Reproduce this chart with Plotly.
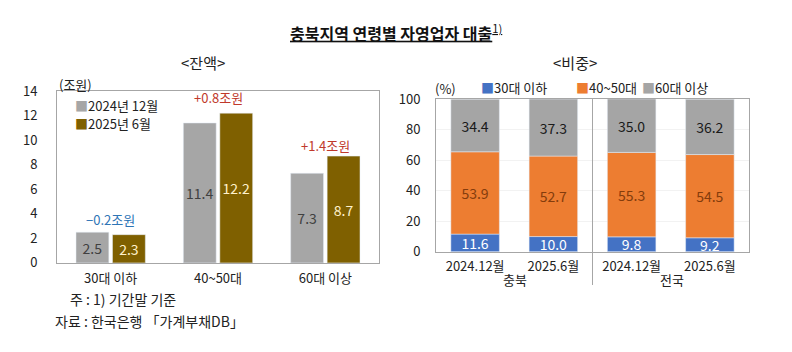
import plotly.graph_objects as go

FONT = "Noto Sans CJK KR"

# ---- Left chart data (잔액, 조원) ----
age_groups = ["30대 이하", "40~50대", "60대 이상"]
bal_2024_12 = [2.5, 11.4, 7.3]
bal_2025_6 = [2.3, 12.2, 8.7]
bal_change = ["−0.2조원", "+0.8조원", "+1.4조원"]
change_colors = ["#2E75B6", "#C0392B", "#C0392B"]
left_ticks = [0, 2, 4, 6, 8, 10, 12, 14]

# ---- Right chart data (비중, %) ----
regions = ["충북", "충북", "전국", "전국"]
periods = ["2024.12월", "2025.6월", "2024.12월", "2025.6월"]
share_30 = [11.6, 10.0, 9.8, 9.2]
share_4050 = [53.9, 52.7, 55.3, 54.5]
share_60 = [34.4, 37.3, 35.0, 36.2]
right_ticks = [0, 20, 40, 60, 80, 100]

W, H = 792, 352
def px(v): return v / W
# vertical calibration (observed render map)
def py(v): return 1 - ((v - 10.32) / 0.9415) / H

fig = go.Figure()

# Left bars
for vals, name, col, tcol in [
    (bal_2024_12, "2024년 12월", "#A6A6A6", "#404040"),
    (bal_2025_6, "2025년 6월", "#7F6000", "#FFF2CC"),
]:
    fig.add_trace(go.Bar(
        x=age_groups, y=vals, name=name, marker_color=col,
        text=[f"{v:.1f}" for v in vals], textangle=0, constraintext="none",
        textposition="inside", insidetextanchor="middle",
        textfont=dict(color=tcol, size=14, family=FONT),
        xaxis="x", yaxis="y", showlegend=False,
    ))

# Right stacked bars (stacked via base so left can stay grouped)
xkeys = [f"{r} {p}" for r, p in zip(regions, periods)]
base_4050 = share_30
base_60 = [a + b for a, b in zip(share_30, share_4050)]
for vals, base, name, col, tcol in [
    (share_30, None, "30대 이하", "#4472C4", "#FFFFFF"),
    (share_4050, base_4050, "40~50대", "#ED7D31", "#843C0C"),
    (share_60, base_60, "60대 이상", "#A5A5A5", "#1A1A1A"),
]:
    fig.add_trace(go.Bar(
        x=xkeys, y=vals, base=base, name=name, marker_color=col,
        text=[f"{v:.1f}" for v in vals], textangle=0, constraintext="none",
        textposition="inside", insidetextanchor="middle",
        textfont=dict(color=tcol, size=14, family=FONT),
        xaxis="x2", yaxis="y2", offsetgroup="stack", width=0.62,
        showlegend=False,
    ))

axis_common = dict(showline=True, linecolor="#A6A6A6", linewidth=1, mirror=True,
                   ticks="", tickfont=dict(size=13, family=FONT, color="#222"))

fig.update_layout(
    width=W, height=H,
    margin=dict(l=0, r=0, t=0, b=0),
    paper_bgcolor="white", plot_bgcolor="white",
    font=dict(family=FONT, color="#222"),
    barmode="group", bargap=0.32, bargroupgap=0.1,
    xaxis=dict(domain=[px(57), px(379)], anchor="y", **axis_common,
               showgrid=False, range=[-0.5, 2.5], ticklabelstandoff=4),
    yaxis=dict(domain=[py(262), py(91)], anchor="x", **axis_common,
               range=[0, 14], tickvals=left_ticks, showgrid=False,
               ticklabelstandoff=16),
    xaxis2=dict(domain=[px(436), px(749)], anchor="y2", type="category",
                **axis_common, showgrid=False, range=[-0.5, 3.5],
                tickvals=xkeys, ticktext=periods, ticklabelstandoff=3),
    yaxis2=dict(domain=[py(251), py(99)], anchor="x2", **axis_common,
                range=[0, 100], tickvals=right_ticks, showgrid=True,
                gridcolor="#F2F2F2", ticklabelstandoff=12),
    showlegend=False,
)

def A(x, y, text, size=13, color="#222", xanchor="center", **kw):
    return dict(x=x, y=y, xref="paper", yref="paper", text=text, showarrow=False,
                xanchor=xanchor, yanchor="middle",
                font=dict(size=size, family=FONT, color=color), **kw)

annotations = []
# change labels over left groups
shifts = [1, 4, -1]
for cat, a, b, txt, c, s in zip(age_groups, bal_2024_12, bal_2025_6, bal_change, change_colors, shifts):
    annotations.append(dict(x=cat, y=max(a, b), xref="x", yref="y", text=txt,
                            showarrow=False, yanchor="bottom", yshift=s,
                            font=dict(size=13, color=c, family=FONT)))

# legends as text with colored square glyphs
annotations += [
    A(px(73), py(105), "<span style='color:#A6A6A6'>■</span>2024년 12월", xanchor="left"),
    A(px(73), py(123), "<span style='color:#7F6000'>■</span>2025년 6월", xanchor="left"),
    A(px(479), py(87), "<span style='color:#4472C4'>■</span>30대 이하", xanchor="left"),
    A(px(574), py(87), "<span style='color:#ED7D31'>■</span>40~50대", xanchor="left"),
    A(px(640), py(87), "<span style='color:#A5A5A5'>■</span>60대 이상", xanchor="left"),
]

# region group labels under right chart
annotations += [
    A(px(515), py(279), regions[0]),
    A(px(672), py(279), regions[2]),
]

annotations += [
    A(0.5, py(33), "<u><b>충북지역 연령별 자영업자 대출</b><sup>1)</sup></u>", size=16, color="#111"),
    A(px(203), py(63), "&lt;잔액&gt;", size=15),
    A(px(575), py(63), "&lt;비중&gt;", size=15),
    A(px(57), py(84), "(조원)", xanchor="left"),
    A(px(433), py(88), "(%)", xanchor="left"),
    A(px(68), py(298), "주 : 1) 기간말 기준", size=14, xanchor="left"),
    A(px(53), py(320), "자료 : 한국은행 「가계부채DB」", size=14, xanchor="left"),
]
fig.update_layout(annotations=annotations)
fig.add_shape(type="line", xref="x2 domain", yref="paper", x0=0.5, x1=0.5,
              y0=py(284), y1=py(99), line=dict(color="#A6A6A6", width=1))

fig.write_html("out.html")
